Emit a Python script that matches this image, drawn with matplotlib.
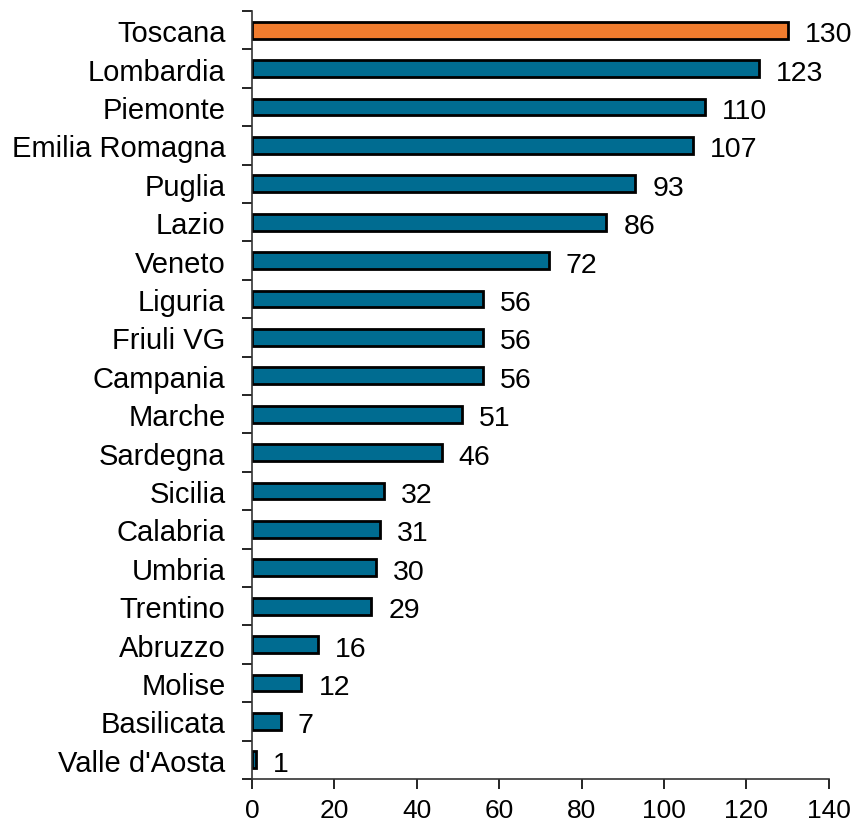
import matplotlib
matplotlib.use("Agg")
import matplotlib.pyplot as plt
import numpy as np

regions = ["Toscana", "Lombardia", "Piemonte", "Emilia Romagna", "Puglia", "Lazio",
           "Veneto", "Liguria", "Friuli VG", "Campania", "Marche", "Sardegna",
           "Sicilia", "Calabria", "Umbria", "Trentino", "Abruzzo", "Molise",
           "Basilicata", "Valle d'Aosta"]
values = [130, 123, 110, 107, 93, 86, 72, 56, 56, 56, 51, 46, 32, 31, 30, 29, 16, 12, 7, 1]
highlight = "Toscana"

plt.rcParams['font.family'] = ['Liberation Sans', 'DejaVu Sans']

fig = plt.figure(figsize=(8.58, 8.28), dpi=100)
ax = fig.add_axes([0.2937, 0.058, 0.966 - 0.2937, 0.9855 - 0.058])

n = len(regions)
ypos = np.arange(n)[::-1]
colors = ["#F07C2E" if r == highlight else "#006C91" for r in regions]
ax.barh(ypos, values, height=0.44, color=colors, edgecolor="black", linewidth=2)

for y, v in zip(ypos, values):
    ax.annotate(str(v), xy=(v, y), xytext=(17, -1), textcoords="offset pixels",
                va="center_baseline", ha="left", fontsize=20.5)

ax.set_xlim(0, 140)
ax.set_ylim(-0.5, n - 0.5)
ax.set_xticks(np.arange(0, 141, 20))
ax.tick_params(axis='x', labelsize=19, length=7, width=1.2, direction='out', pad=7)

ax.set_yticks(ypos)
ax.set_yticklabels(regions)
ax.tick_params(axis='y', which='major', length=0, labelsize=21, pad=19)
ax.set_yticks(np.arange(-0.5, n, 1.0), minor=True)
ax.tick_params(axis='y', which='minor', length=7, width=1.2, direction='out')

for s in ['top', 'right']:
    ax.spines[s].set_visible(False)
for s in ['left', 'bottom']:
    ax.spines[s].set_linewidth(1.2)
    ax.spines[s].set_color("#333333")

fig.savefig("out.png", dpi=100)
